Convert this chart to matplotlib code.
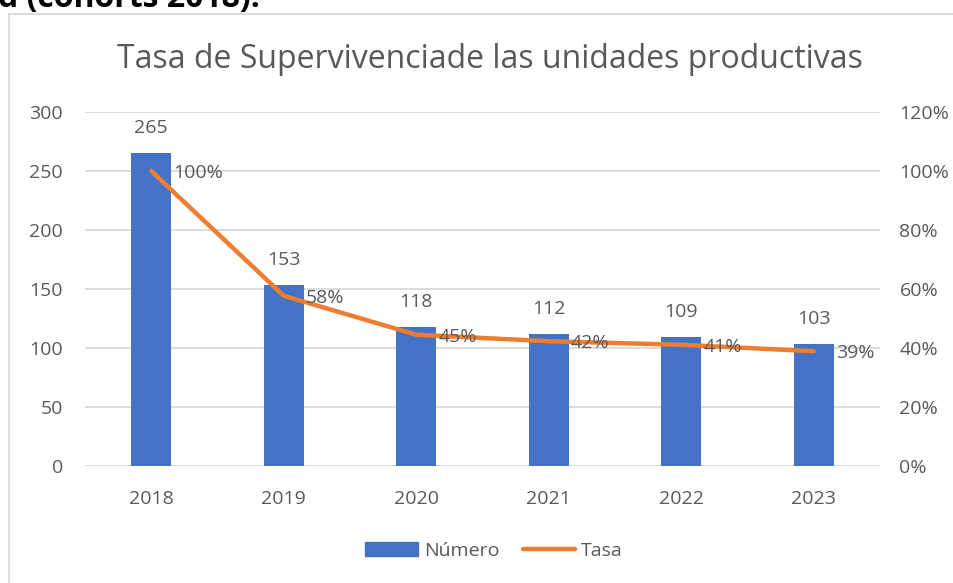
import numpy as np
from matplotlib import pyplot as plt
from matplotlib.patches import Rectangle
from matplotlib.lines import Line2D

plt.rcParams['font.family'] = ['Open Sans', 'DejaVu Sans']

# data
years = ['2018', '2019', '2020', '2021', '2022', '2023']
numero = [265, 153, 118, 112, 109, 103]
tasa = [1.00, 0.577, 0.445, 0.423, 0.411, 0.389]
tasa_labels = ['100%', '58%', '45%', '42%', '41%', '39%']
left_ticks = [0, 50, 100, 150, 200, 250, 300]
right_ticks = [0, 0.2, 0.4, 0.6, 0.8, 1.0, 1.2]

blue = '#4472C4'
orange = '#ED7D31'
txt = '#595959'
grid = '#D9D9D9'
fs = 14

W, H = 954, 583
fig = plt.figure(figsize=(W/100, H/100), dpi=100)

# chart frame (cut off at right/bottom)
fig.patches.append(Rectangle((9/W, -0.1), 1.2, 1 - 14/H + 0.1, transform=fig.transFigure,
                             fill=False, edgecolor=grid, linewidth=1.3))
# caption remnant above the chart
fig.text(-2/W, 1 - 7/H, 'd (cohorts 2018).', fontsize=23, fontweight='bold',
         color='black', va='baseline', ha='left')

ax = fig.add_axes([85/W, 1 - 466/H, 795/W, 354/H])
x = np.arange(len(years))
ax.bar(x, numero, width=0.30, color=blue, zorder=2)
ax.set_xlim(-0.5, len(years) - 0.5)
ax.set_ylim(0, 300)
ax.set_yticks(left_ticks)
ax.set_xticks(x)
ax.set_xticklabels(years)
ax.grid(axis='y', color=grid, linewidth=1.3, zorder=0)
ax.tick_params(length=0, labelsize=fs, colors=txt, pad=16)
ax.tick_params(axis='x', pad=17)
for s in ax.spines.values():
    s.set_visible(False)

for xi, v in zip(x, numero):
    ax.annotate(str(v), (xi, v), xytext=(0, 18), textcoords='offset points',
                ha='center', va='center', fontsize=fs, color=txt)

ax2 = ax.twinx()
ax2.plot(x, tasa, color=orange, linewidth=3.2, solid_capstyle='round', zorder=3)
ax2.set_ylim(0, 1.2)
ax2.set_yticks(right_ticks)
ax2.set_yticklabels([f'{int(round(t*100))}%' for t in right_ticks])
ax2.tick_params(length=0, labelsize=fs, colors=txt, pad=14)
for s in ax2.spines.values():
    s.set_visible(False)

for xi, v, lab in zip(x, tasa, tasa_labels):
    ax2.annotate(lab, (xi, v), xytext=(16, -1.5), textcoords='offset points',
                 ha='left', va='center', fontsize=fs, color=txt)

fig.text(490/W, 1 - 59/H, 'Tasa de Supervivenciade las unidades productivas',
         ha='center', va='center', fontsize=23, color=txt)

handles = [Rectangle((0, 0), 1, 1, color=blue),
           Line2D([0], [0], color=orange, linewidth=3.2, solid_capstyle='round')]
fig.legend(handles, ['Número', 'Tasa'], loc='center', bbox_to_anchor=(494/W, 1 - 551/H),
           ncol=2, frameon=False, fontsize=fs, labelcolor=txt, handlelength=2.7,
           handleheight=0.72, handletextpad=0.3, columnspacing=1.2)

fig.savefig('out.png', dpi=100)
